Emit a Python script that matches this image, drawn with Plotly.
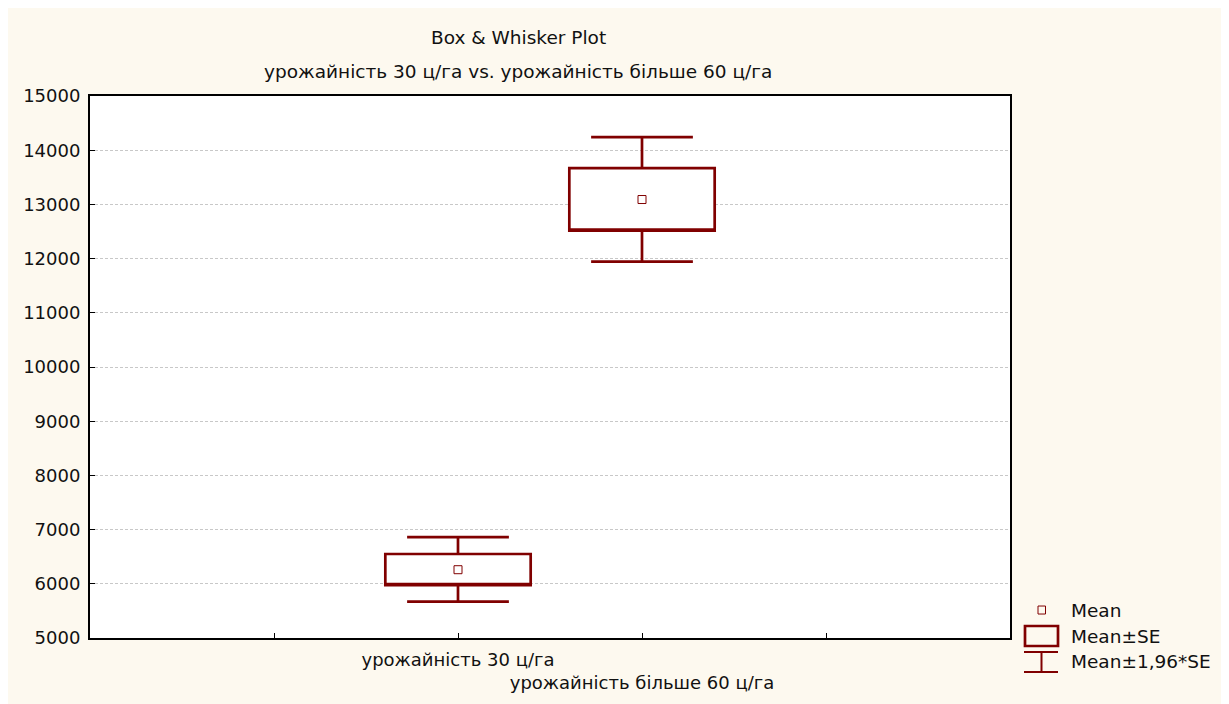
import plotly.graph_objects as go

# ---- data ----
categories = ["урожайність 30 ц/га", "урожайність більше 60 ц/га"]
cat_pos = [2, 3]
means = [6260, 13090]
se_low = [5975, 12515]
se_high = [6550, 13670]
ci_low = [5670, 11945]
ci_high = [6860, 14240]

y_ticks = list(range(5000, 15001, 1000))

title_lines = ["Box & Whisker Plot", "урожайність 30 ц/га vs. урожайність більше 60 ц/га"]
legend_labels = ["Mean", "Mean±SE", "Mean±1,96*SE"]

RED = "#800000"
BG = "#fdf9ef"
FONT = "DejaVu Sans"
FS_TICK = 18
FS_TXT = 18.5

fig = go.Figure()

fig.add_trace(go.Box(
    x=cat_pos,
    q1=se_low,
    median=se_low,
    q3=se_high,
    lowerfence=ci_low,
    upperfence=ci_high,
    width=0.79,
    whiskerwidth=0.70,
    fillcolor="white",
    line=dict(color=RED, width=2.7),
    hoverinfo="skip",
    showlegend=False,
))

fig.add_trace(go.Scatter(
    x=cat_pos,
    y=means,
    mode="markers",
    marker=dict(symbol="square-open", size=8, color=RED, line=dict(width=1, color=RED)),
    hoverinfo="skip",
    showlegend=False,
))

# x tick labels: second one drops one line lower
ticktext = ["", categories[0], "<br>" + categories[1], ""]

fig.update_xaxes(
    range=[0, 5],
    tickmode="array",
    tickvals=[1, 2, 3, 4],
    ticktext=ticktext,
    tickangle=0,
    automargin=False,
    ticks="inside",
    ticklen=5,
    tickcolor="black",
    showgrid=False,
    zeroline=False,
    showline=True,
    mirror=True,
    linecolor="black",
    linewidth=2,
    ticklabelstandoff=4,
    tickfont=dict(family=FONT, size=FS_TICK, color="#111111"),
)
fig.update_yaxes(
    range=[5000, 15000],
    tickmode="array",
    tickvals=y_ticks,
    ticktext=[str(v) for v in y_ticks],
    automargin=False,
    ticks="inside",
    ticklen=5,
    tickcolor="black",
    showgrid=True,
    gridcolor="#c8c8c8",
    griddash="3px,2px",
    gridwidth=1,
    zeroline=False,
    showline=True,
    mirror=True,
    linecolor="black",
    linewidth=2,
    ticklabelstandoff=4,
    tickfont=dict(family=FONT, size=FS_TICK, color="#111111"),
)

# screen coordinates of the reference (page has an 8px body margin)
OFF = 8
L, R_, T, B = 90 - OFF, 1010 - OFF, 95.5 - OFF, 638 - OFF
W, H = R_ - L, B - T

def px(x):
    return (x - OFF - L) / W

def py(y):
    return (B - (y - OFF)) / H

shapes = [
    # Mean marker icon
    dict(type="rect", xref="paper", yref="paper", x0=px(1038), x1=px(1045.5), y0=py(614), y1=py(606),
         line=dict(color=RED, width=1), fillcolor="rgba(0,0,0,0)"),
    # Mean±SE box icon
    dict(type="rect", xref="paper", yref="paper", x0=px(1025), x1=px(1058), y0=py(646), y1=py(626),
         line=dict(color=RED, width=2.7), fillcolor="rgba(0,0,0,0)"),
    # whisker icon
    dict(type="line", xref="paper", yref="paper", x0=px(1024), x1=px(1058), y0=py(652), y1=py(652),
         line=dict(color=RED, width=2)),
    dict(type="line", xref="paper", yref="paper", x0=px(1024), x1=px(1058), y0=py(672), y1=py(672),
         line=dict(color=RED, width=2)),
    dict(type="line", xref="paper", yref="paper", x0=px(1041.5), x1=px(1041.5), y0=py(652), y1=py(672),
         line=dict(color=RED, width=2)),
]

annotations = []
for lbl, yy in zip(legend_labels, [610, 636.5, 662]):
    annotations.append(dict(
        text=lbl, xref="paper", yref="paper", x=px(1069), y=py(yy),
        xanchor="left", yanchor="middle", showarrow=False,
        font=dict(family=FONT, size=FS_TXT, color="#111111"),
    ))

for line, yy in zip(title_lines, [37, 71]):
    annotations.append(dict(
        text=line, xref="paper", yref="paper", x=px(518), y=py(yy),
        xanchor="center", yanchor="middle", showarrow=False,
        font=dict(family=FONT, size=FS_TXT, color="#111111"),
    ))

fig.update_layout(
    width=1229,
    height=704,
    margin=dict(l=L, r=1229 - R_, t=T, b=704 - B),
    paper_bgcolor=BG,
    plot_bgcolor="white",
    showlegend=False,
    shapes=shapes,
    annotations=annotations,
    font=dict(family=FONT, size=FS_TICK, color="#111111"),
)

fig.write_html("out.html")
